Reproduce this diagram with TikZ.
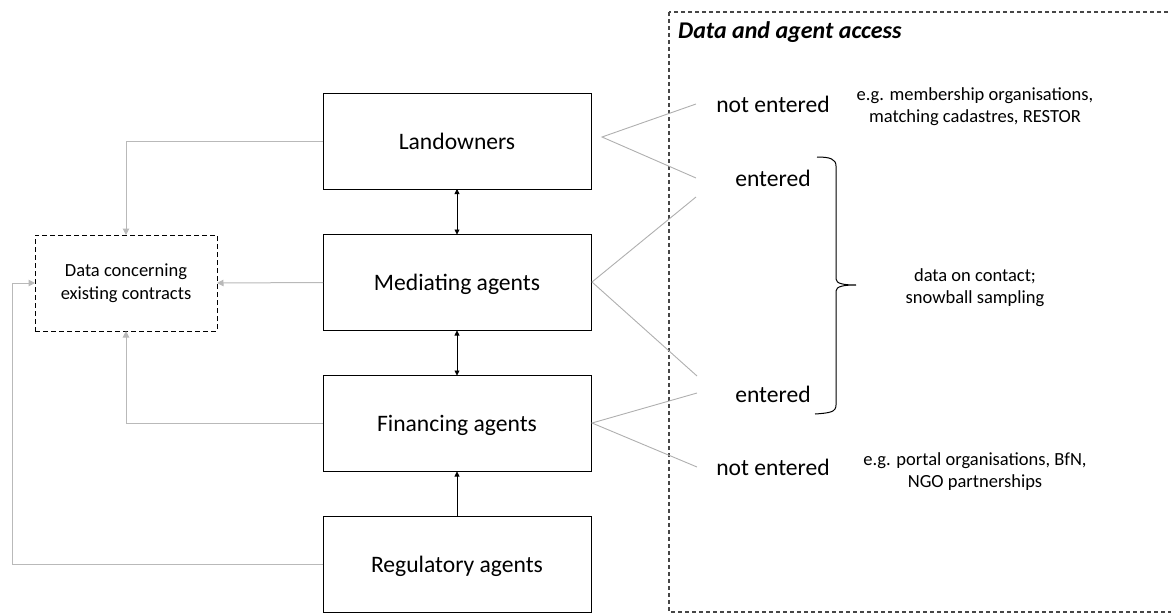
\documentclass[tikz,border=0pt]{standalone}
\usepackage{fontspec}
\setmainfont{Carlito}
\usetikzlibrary{arrows.meta}
\definecolor{connGray}{RGB}{185,185,185}
\definecolor{fanGray}{RGB}{175,175,175}
\definecolor{frameGray}{RGB}{70,70,70}
\begin{document}
\begin{tikzpicture}[x=1pt,y=-1pt,
  agentbox/.style={draw=black,line width=1pt,minimum width=268pt,minimum height=96pt,inner sep=0pt,outer sep=0pt,
    font=\fontsize{23.6}{28}\selectfont,text height=16.6pt,text depth=0pt},
  databox/.style={draw=black,line width=1pt,dash pattern=on 5pt off 3pt,minimum width=182pt,minimum height=96pt,
    inner sep=0pt,outer sep=0pt,align=center,font=\fontsize{18.5}{23}\selectfont},
  bigtext/.style={font=\fontsize{23.6}{28}\selectfont,inner sep=0pt,anchor=base},
  smalltext/.style={font=\fontsize{18.5}{22}\selectfont,inner sep=0pt,align=center},
  blackarrow/.style={line width=0.8pt,{Triangle[width=5pt,length=5pt]}-{Triangle[width=5pt,length=5pt]}},
  blackone/.style={line width=0.8pt,-{Triangle[width=5pt,length=5pt]}},
  grayarrow/.style={draw=connGray,line width=1pt,-{Triangle[width=6.5pt,length=6.5pt]}},
  fanline/.style={draw=fanGray,line width=0.9pt},
]
\useasboundingbox (0,0) rectangle (1171,613);
\clip (0,0) rectangle (1171,613);

% outer dashed frame
\draw[frameGray,line width=1.1pt,dash pattern=on 4pt off 3pt] (669,12) rectangle (1190,612);
\node[font=\fontsize{24}{28}\selectfont\bfseries\itshape,inner sep=0pt,anchor=base west] (title) at (678,38) {Data and agent access};

% agent boxes
\node[agentbox] (land) at (457,141) {Landowners};
\node[agentbox] (med) at (457,282.5) {Mediating agents};
\node[agentbox] (fin) at (457,423.5) {Financing agents};
\node[agentbox] (reg) at (457,564.5) {Regulatory agents};

% data box
\node[databox] (data) at (126,283) {\raisebox{-3pt}{Data concerning}\\\raisebox{-3pt}{existing contracts}};

% black arrows
\draw[blackarrow] (land.south) -- (med.north);
\draw[blackarrow] (med.south) -- (fin.north);
\draw[blackone] (reg.north) -- (fin.south);

% gray connectors
\coordinate (regcorner) at (12,564.5);
\draw[grayarrow] (land.west) -| (data.north);
\draw[grayarrow] (med.west) -- (data.east);
\draw[grayarrow] (fin.west) -| (data.south);
\draw[grayarrow] (reg.west) -- (regcorner) |- (data.west);

% access texts
\node[bigtext] (ne1) at (773,112) {not entered};
\node[bigtext] (en1) at (773,186) {entered};
\node[bigtext] (en2) at (773,402) {entered};
\node[bigtext] (ne2) at (773,475) {not entered};

% fan lines
\coordinate (apexL) at (602,137);
\coordinate (apexM) at (592,282);
\coordinate (apexF) at (592,423);
\coordinate (endA) at (696,104);
\coordinate (endB) at (696,178);
\coordinate (endC) at (696,197);
\coordinate (endD) at (697,376);
\coordinate (endE) at (697,393);
\coordinate (endF) at (697,467);
\draw[fanline] (endA) -- (apexL) -- (endB);
\draw[fanline] (endC) -- (apexM) -- (endD);
\draw[fanline] (endE) -- (apexF) -- (endF);

% brace
\draw[black,line width=1pt] (817,157) .. controls (830,157) and (836,159) .. (836,166)
  -- (836,279) .. controls (836,284) and (845,285) .. (856,285)
  .. controls (845,285) and (836,286) .. (836,291)
  -- (836,405) .. controls (836,412) and (830,413) .. (815,414);

% side notes
\node[smalltext] (note1) at (975,107) {e.g. membership organisations,\\matching cadastres, RESTOR};
\node[smalltext] (note2) at (975,288) {data on contact;\\snowball sampling};
\node[smalltext] (note3) at (975,472) {e.g. portal organisations, BfN,\\NGO partnerships};
\end{tikzpicture}
\end{document}
